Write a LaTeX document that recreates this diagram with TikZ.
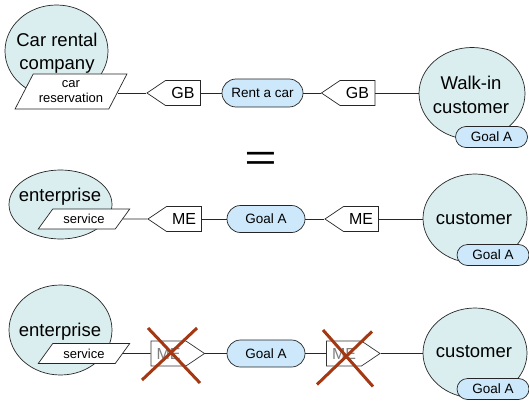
\documentclass[tikz,border=0pt]{standalone}
\usepackage{fontspec}
\setmainfont{Liberation Sans}
\usetikzlibrary{shapes.geometric,shapes.misc,shapes.symbols}
\definecolor{actorfill}{RGB}{218,238,240}
\definecolor{goalfill}{RGB}{204,232,250}
\definecolor{xred}{RGB}{163,56,18}
\begin{document}
\begin{tikzpicture}[x=1pt,y=-1pt,
  outline/.style={draw=black!85, line width=0.7pt},
  actor/.style={ellipse, outline, fill=actorfill, inner sep=0pt},
  bigtxt/.style={font=\fontsize{18.5}{24}\selectfont, align=center, inner sep=0pt},
  para/.style={trapezium, trapezium stretches=true, outline, fill=white, inner sep=0pt, font=\fontsize{13}{14.5}\selectfont, align=center},
  sig/.style={signal, outline, fill=white, signal pointer angle=68, minimum width=53.5pt, minimum height=25pt, inner sep=0pt, font=\fontsize{16}{16}\selectfont},
  faded/.style={draw=black!80, text=black!50},
  goal/.style={rounded rectangle, outline, fill=goalfill, inner sep=0pt, minimum height=27pt, font=\fontsize{13.5}{13.5}\selectfont},
  badge/.style={goal, minimum width=72pt, minimum height=21pt},
  conn/.style={draw=black!85, line width=0.8pt},
  xmark/.style={draw=xred, line width=3pt},
]
\useasboundingbox (0,0) rectangle (529,401);

% ---------- row 1 ----------
\node[actor, minimum width=103pt, minimum height=92pt] (crc) at (56.5,51) {};
\node[bigtxt, font=\fontsize{18.5}{23}\selectfont] (crct) at (57,53.5) {Car rental\\company};
\node[para, trapezium left angle=54.5, trapezium right angle=125.5, minimum width=112pt, minimum height=35pt] (res) at (71,91.5) {car\\reservation};
\node[sig, signal to=west] (gb1) at (183,93) {GB};
\node[goal, minimum width=81pt, minimum height=28pt] (rent) at (262.5,93) {Rent a car};
\node[sig, signal to=west] (gb2) at (357.5,93) {GB};
\node[actor, minimum width=106pt, minimum height=92pt] (walk) at (472,93.5) {};
\node[bigtxt] (walkt) at (471,95) {Walk-in\\customer};
\node[badge] (ga1) at (491.5,137) {Goal A};

\draw[conn] (res.east |- gb1.west) -- (gb1.west);
\draw[conn] (gb1.east) -- (rent.west);
\draw[conn] (rent.east) -- (gb2.west);
\draw[conn] (gb2.east) -- (gb2.east -| walk.west);

% ---------- equals ----------
\node[anchor=base, inner sep=0pt] (eq) at (260.5,170.8) {\fontsize{37}{37}\selectfont\scalebox{1.5}[1]{=}};

% ---------- row 2 ----------
\node[actor, minimum width=103pt, minimum height=69pt] (ent2) at (60.5,204.5) {};
\node[bigtxt] (ent2t) at (60,196.5) {enterprise};
\node[para, trapezium left angle=45, trapezium right angle=135, minimum width=92pt, minimum height=20pt] (srv2) at (84,219) {service};
\node[sig, signal to=west] (me1) at (184,219) {ME};
\node[goal, minimum width=78pt] (goal2) at (266,219) {Goal A};
\node[sig, signal to=west] (me2) at (361,219) {ME};
\node[actor, minimum width=104pt, minimum height=89pt] (cust2) at (475,218.5) {};
\node[bigtxt] (cust2t) at (474,218.7) {customer};
\node[badge] (ga2) at (493,255) {Goal A};

\draw[conn] (srv2.east) -- (me1.west);
\draw[conn] (me1.east) -- (goal2.west);
\draw[conn] (goal2.east) -- (me2.west);
\draw[conn] (me2.east) -- (me2.east -| cust2.west);

% ---------- row 3 ----------
\node[actor, minimum width=103pt, minimum height=90pt] (ent3) at (60.5,330) {};
\node[bigtxt] (ent3t) at (60,332) {enterprise};
\node[para, trapezium left angle=45, trapezium right angle=135, minimum width=92pt, minimum height=20pt] (srv3) at (84,353.5) {service};
\node[sig, signal to=east, faded] (p1) at (168.5,353.5) {ME};
\node[goal, minimum width=78pt] (goal3) at (266,353.5) {Goal A};
\node[sig, signal to=east, faded] (p2) at (344,353.5) {ME};
\node[actor, minimum width=104pt, minimum height=90pt] (cust3) at (475,353) {};
\node[bigtxt] (cust3t) at (474,352) {customer};
\node[badge] (ga3) at (493,389) {Goal A};

\draw[conn] (srv3.east) -- (p1.west);
\draw[conn] (p1.east) -- (goal3.west);
\draw[conn] (goal3.east) -- (p2.west);
\draw[conn] (p2.east) -- (p2.east -| cust3.west);

% ---------- crosses ----------
\draw[xmark] ([shift={(-20.5,-25.5)}]p1.center) -- ([shift={(31.5,29.5)}]p1.center);
\draw[xmark] ([shift={(28.5,-25.5)}]p1.center) -- ([shift={(-26.5,26.5)}]p1.center);
\draw[xmark] ([shift={(-21,-23.5)}]p2.center) -- ([shift={(29,33)}]p2.center);
\draw[xmark] ([shift={(28,-22)}]p2.center) -- ([shift={(-27,31)}]p2.center);
\end{tikzpicture}
\end{document}
